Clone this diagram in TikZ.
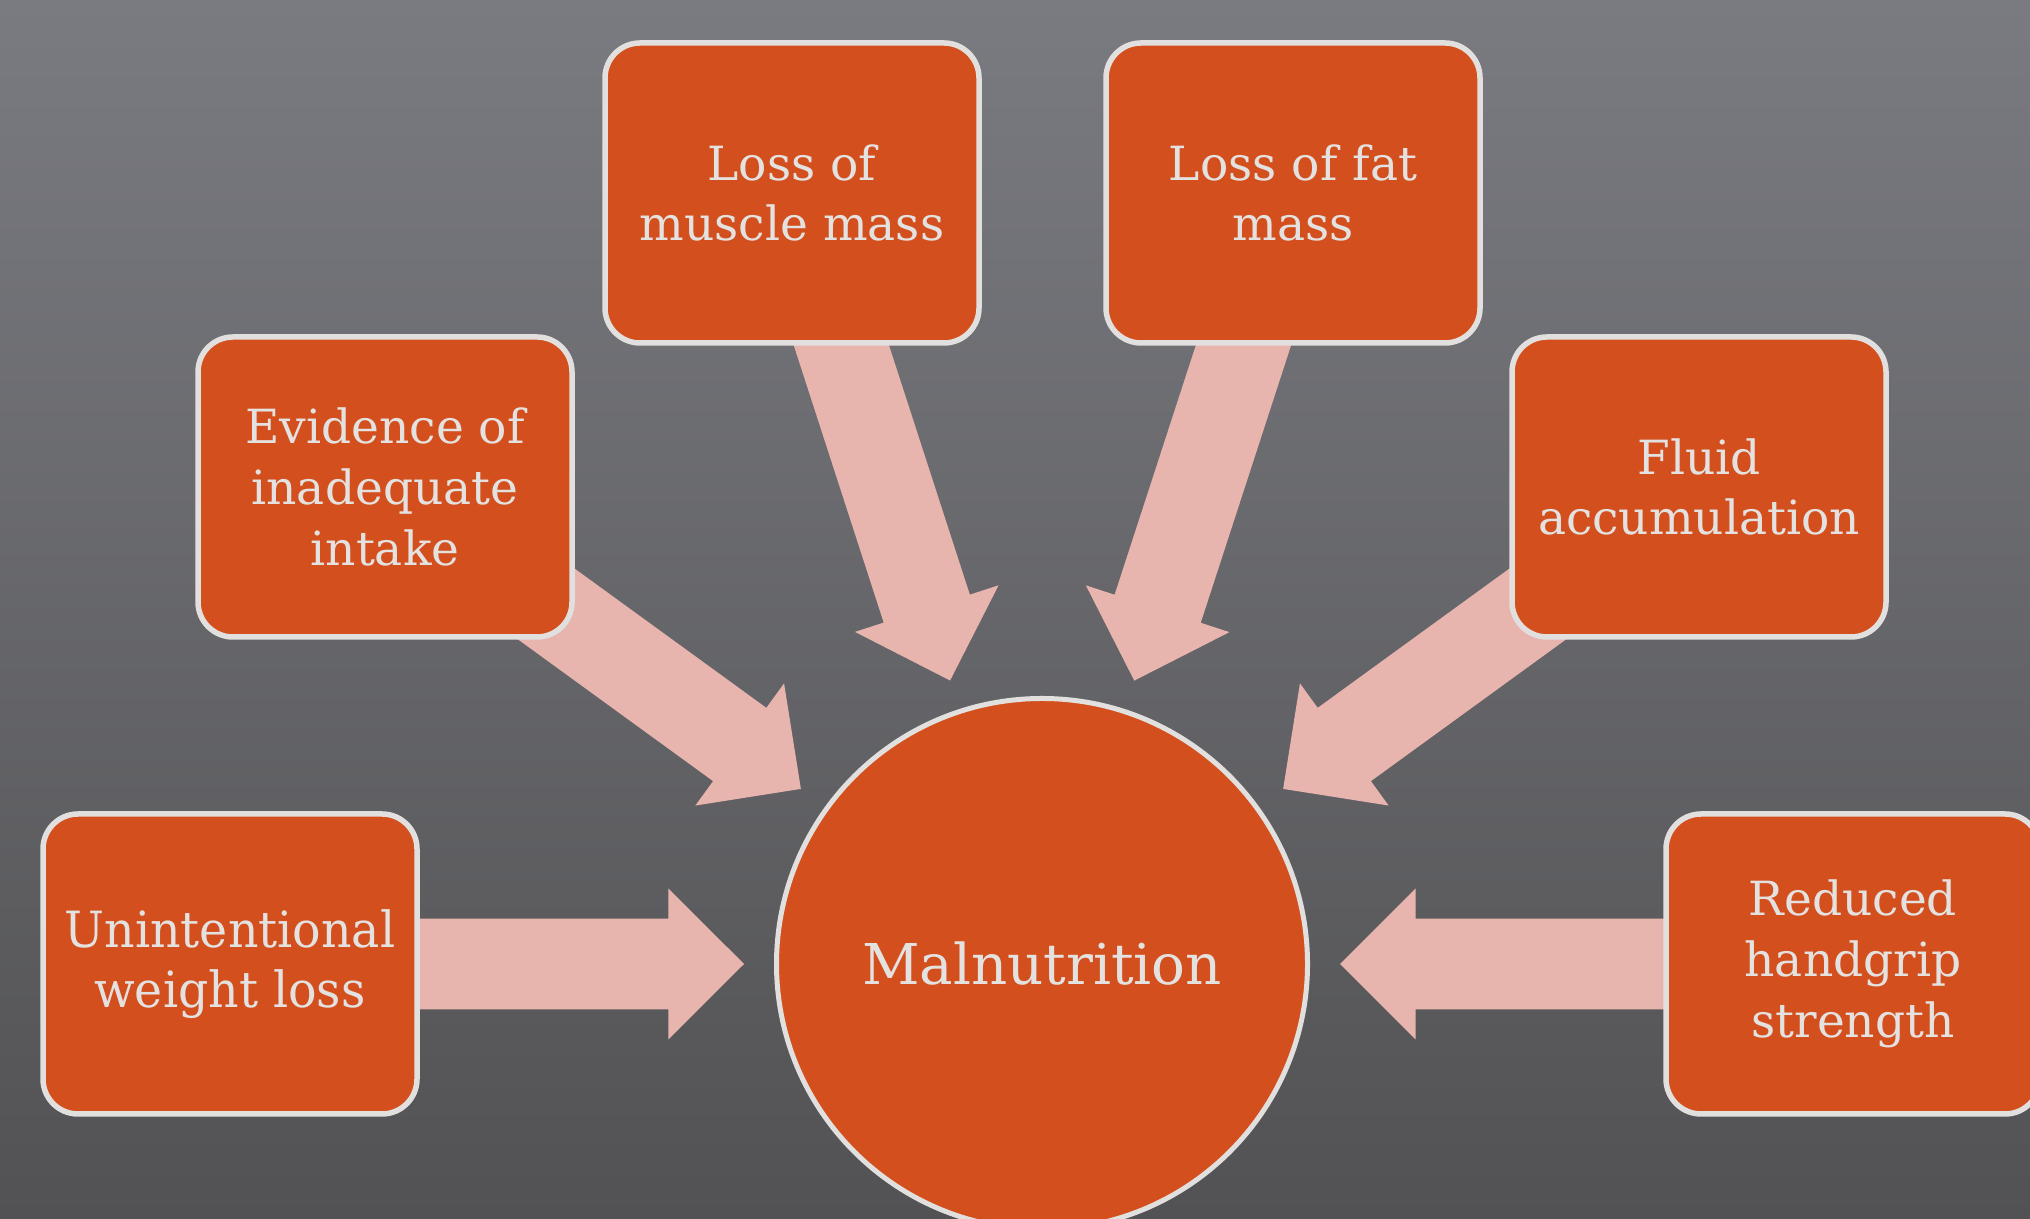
\documentclass[tikz,border=0pt]{standalone}
\usepackage{fontspec}
\setmainfont{DejaVu Serif}
\newfontfamily\condfont[FakeStretch=0.95]{DejaVu Serif}
\usetikzlibrary{calc}
\definecolor{mnorange}{HTML}{D3501E}
\definecolor{mnedge}{HTML}{E2E0DE}
\definecolor{mntext}{HTML}{E4E2E0}
\definecolor{mnpink}{HTML}{E8B4AE}
\definecolor{bgtop}{HTML}{7A7B81}
\definecolor{bgmid}{HTML}{6A6C74}
\definecolor{bgbot}{HTML}{525254}
\pgfdeclarelayer{back}
\pgfdeclarelayer{arrows}
\pgfsetlayers{back,arrows,main}
\newcommand{\arrgap}{0.3cm}
\newcommand{\headlen}{0.756cm}
\newcommand{\headhw}{0.755cm}
\newcommand{\shafthw}{0.453cm}
% block arrow from one node towards another
\newcommand{\blockarrow}[2]{%
  \path (#1) -- (#2) coordinate[pos=0] (ba-s) coordinate[pos=1] (ba-e);
  \coordinate (ba-t) at ($(ba-e)!\arrgap!(ba-s)$);
  \coordinate (ba-b) at ($(ba-t)!\headlen!(ba-s)$);
  \coordinate (ba-r) at ($(ba-s)!-1cm!(ba-e)$);
  \fill[mnpink] ($(ba-r)!\shafthw!-90:(ba-e)$) -- ($(ba-b)!\shafthw!90:(ba-s)$)
    -- ($(ba-b)!\headhw!90:(ba-s)$) -- (ba-t) -- ($(ba-b)!\headhw!-90:(ba-s)$)
    -- ($(ba-b)!\shafthw!-90:(ba-s)$) -- ($(ba-r)!\shafthw!90:(ba-e)$) -- cycle;
}

\begin{document}
\begin{tikzpicture}[
  sign/.style={rectangle, rounded corners=0.35cm, draw=mnedge, fill=mnorange, line width=0.055cm,
    minimum width=3.74cm, minimum height=3.0cm, align=center, text=mntext,
    font=\fontsize{13.4}{17.3}\selectfont},
  hub/.style={circle, draw=mnedge, fill=mnorange, line width=0.05cm, minimum size=5.31cm,
    text=mntext, font=\fontsize{16}{19}\selectfont},
]
  \useasboundingbox (0,0) rectangle (20.3,12.19);
  \begin{pgfonlayer}{back}
    \shade[top color=bgtop, middle color=bgmid, bottom color=bgbot] (0,0) rectangle (20.3,12.19);
  \end{pgfonlayer}

  \node[hub] (mal) at (10.42, 2.55) {Malnutrition};

  \node[sign] (muscle) at (7.92, 10.26) {Loss of\\muscle mass};
  \node[sign] (fat) at (12.93, 10.26) {Loss of fat\\mass};
  \node[sign] (intake) at (3.85, 7.32) {Evidence of\\inadequate\\intake};
  \node[sign] (fluid) at (16.99, 7.32) {Fluid\\accumulation};
  \node[sign, font=\condfont\fontsize{14.2}{17.3}\selectfont] (weight) at (2.30, 2.55) {Unintentional\\weight loss};
  \node[sign] (grip) at (18.53, 2.55) {Reduced\\handgrip\\strength};

  \begin{pgfonlayer}{arrows}
    \blockarrow{weight}{mal}
    \blockarrow{intake}{mal}
    \blockarrow{muscle}{mal}
    \blockarrow{fat}{mal}
    \blockarrow{fluid}{mal}
    \blockarrow{grip}{mal}
  \end{pgfonlayer}
\end{tikzpicture}
\end{document}
